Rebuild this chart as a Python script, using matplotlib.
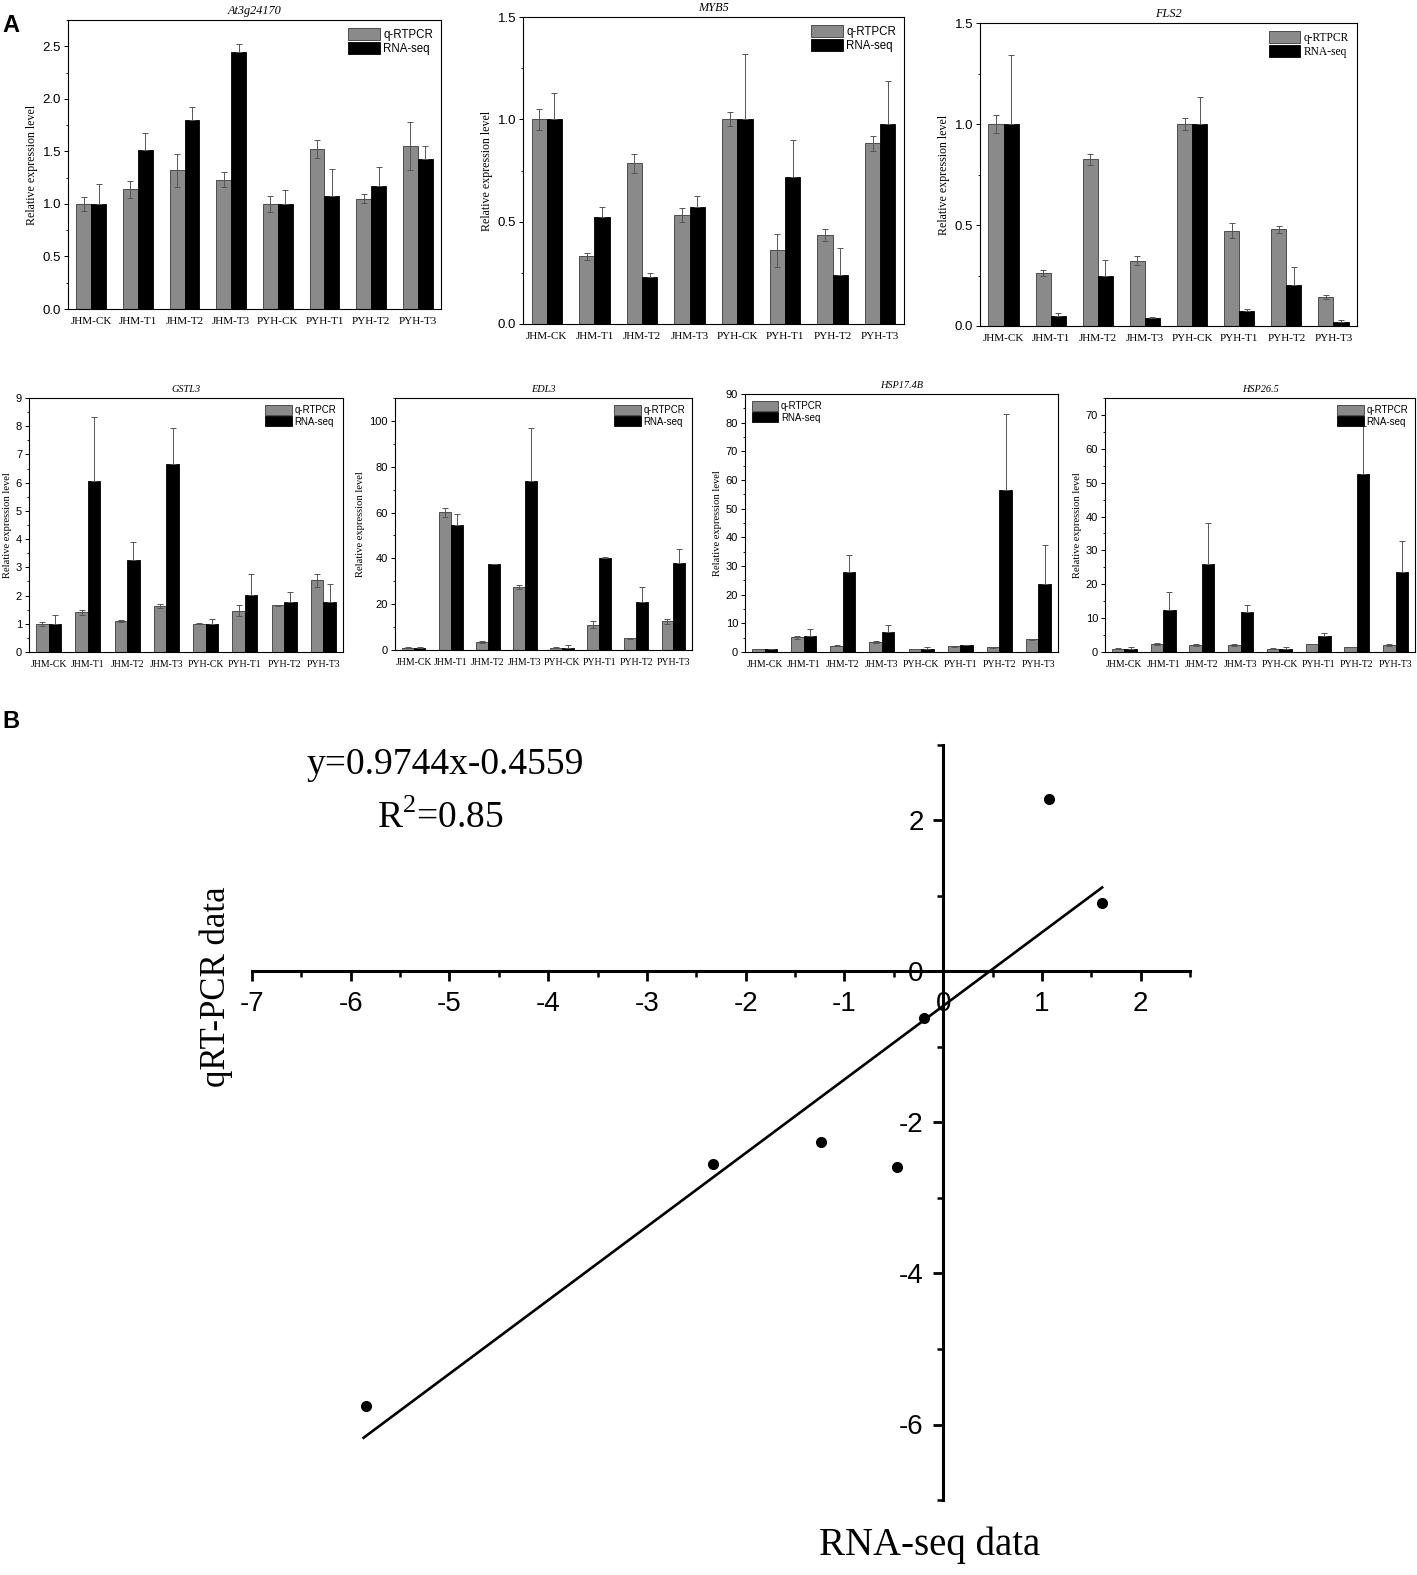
import numpy as np
import matplotlib
matplotlib.use("Agg")
import matplotlib.pyplot as plt
from matplotlib.ticker import MultipleLocator, FormatStrFormatter

plt.rcParams["axes.unicode_minus"] = False

groups = ["JHM-CK", "JHM-T1", "JHM-T2", "JHM-T3", "PYH-CK", "PYH-T1", "PYH-T2", "PYH-T3"]

# per gene: q-RTPCR mean / err, RNA-seq mean / err
at3_q = [1.00, 1.14, 1.32, 1.23, 1.00, 1.52, 1.05, 1.55]
at3_qe = [0.07, 0.08, 0.155, 0.07, 0.08, 0.086, 0.044, 0.225]
at3_r = [1.00, 1.51, 1.80, 2.45, 1.00, 1.08, 1.17, 1.43]
at3_re = [0.19, 0.16, 0.12, 0.075, 0.13, 0.25, 0.18, 0.117]

myb_q = [1.00, 0.33, 0.786, 0.532, 1.00, 0.36, 0.434, 0.884]
myb_qe = [0.05, 0.017, 0.047, 0.033, 0.035, 0.08, 0.028, 0.037]
myb_r = [1.00, 0.523, 0.228, 0.574, 1.00, 0.719, 0.24, 0.978]
myb_re = [0.13, 0.05, 0.02, 0.052, 0.32, 0.18, 0.13, 0.21]

fls_q = [1.00, 0.261, 0.825, 0.323, 1.00, 0.472, 0.479, 0.142]
fls_qe = [0.046, 0.015, 0.026, 0.023, 0.03, 0.038, 0.018, 0.01]
fls_r = [1.00, 0.051, 0.249, 0.04, 1.00, 0.076, 0.203, 0.021]
fls_re = [0.34, 0.015, 0.076, 0.005, 0.134, 0.01, 0.091, 0.008]

gst_q = [1.00, 1.40, 1.11, 1.64, 1.00, 1.47, 1.65, 2.55]
gst_qe = [0.07, 0.09, 0.03, 0.07, 0.02, 0.19, 0.02, 0.23]
gst_r = [1.00, 6.07, 3.25, 6.65, 1.00, 2.01, 1.78, 1.78]
gst_re = [0.32, 2.26, 0.64, 1.29, 0.16, 0.76, 0.34, 0.64]

edl_q = [1.0, 60.1, 3.5, 27.5, 1.0, 11.1, 5.1, 12.5]
edl_qe = [0.2, 1.9, 0.3, 1.0, 0.3, 1.4, 0.2, 1.2]
edl_r = [1.0, 54.4, 37.4, 73.7, 1.0, 40.3, 21.0, 37.8]
edl_re = [0.2, 5.1, 0.3, 23.1, 1.3, 0.3, 6.5, 6.3]

h17_q = [1.0, 5.1, 2.2, 3.4, 1.0, 2.0, 1.7, 4.5]
h17_qe = [0.1, 0.5, 0.2, 0.3, 0.1, 0.2, 0.2, 0.2]
h17_r = [1.0, 5.7, 27.9, 7.1, 1.0, 2.4, 56.4, 23.7]
h17_re = [0.2, 2.4, 5.9, 2.4, 0.8, 0.2, 26.5, 13.6]

h26_q = [1.0, 2.4, 2.1, 2.2, 1.0, 2.4, 1.5, 2.1]
h26_qe = [0.1, 0.2, 0.2, 0.3, 0.1, 0.1, 0.1, 0.3]
h26_r = [1.0, 12.5, 25.9, 11.9, 1.0, 4.7, 52.7, 23.7]
h26_re = [0.4, 5.1, 12.2, 2.0, 0.6, 1.0, 13.9, 9.1]

# panel B scatter (RNA-seq vs qRT-PCR)
rna_x = [-5.85, -2.33, -1.24, -0.47, -0.19, 1.075, 1.61]
qpcr_y = [-5.75, -2.55, -2.26, -2.59, -0.62, 2.28, 0.91]
slope, intercept = 0.9744, -0.4559

W, H = 1417, 1575
fig = plt.figure(figsize=(W / 100, H / 100), dpi=100)

def px_axes(l, t, r, b):
    return fig.add_axes([l / W, 1 - b / H, (r - l) / W, (b - t) / H])

def bar_panel(box, title, q, qe, r, re, ymax, major, minor, legloc, small=False, legserif=False):
    ax = px_axes(*box)
    x = np.arange(len(groups))
    w = 0.32
    ekw = dict(ecolor="#555555", elinewidth=0.7, capsize=2.5, capthick=0.7)
    ax.bar(x - w / 2, q, w, yerr=qe, color="#8a8a8a", edgecolor="#3a3a3a",
           linewidth=0.6, error_kw=ekw, label="q-RTPCR")
    ax.bar(x + w / 2, r, w, yerr=[np.zeros(len(re)), re], color="black", edgecolor="black",
           linewidth=0.6, error_kw=ekw, label="RNA-seq")
    ax.set_xlim(-0.5, 7.5)
    ax.set_ylim(0, ymax)
    ax.yaxis.set_major_locator(MultipleLocator(major))
    ax.yaxis.set_minor_locator(MultipleLocator(minor))
    if major < 1:
        ax.yaxis.set_major_formatter(FormatStrFormatter("%.1f"))
    ax.set_xticks(x)
    ax.set_xticklabels(groups, family="Liberation Serif", fontsize=7.0 if small else 8.0)
    ax.tick_params(axis="x", length=0, pad=6)
    ax.tick_params(axis="y", labelsize=8.0 if small else 9.5, length=3, width=0.7, pad=2)
    ax.tick_params(axis="y", which="minor", length=1.8, width=0.6)
    for lab in ax.get_yticklabels():
        lab.set_family("Liberation Sans")
    for s in ax.spines.values():
        s.set_linewidth(0.8)
    ax.set_ylabel("Relative expression level", family="Liberation Serif",
                  fontsize=7.6 if small else 8.6, labelpad=3)
    ax.set_title(title, family="Liberation Serif", style="italic",
                 fontsize=7.4 if small else 8.8, pad=4)
    ax.legend(loc=legloc, frameon=False,
              handlelength=2.7, handleheight=1.2, labelspacing=0.12,
              handletextpad=0.3, borderaxespad=0.3,
              prop=dict(family="Liberation Serif" if legserif else "Liberation Sans",
                        size=7.0 if small else 8.3))
    return ax

bar_panel((68, 20, 441, 309), "At3g24170", at3_q, at3_qe, at3_r, at3_re, 2.75, 0.5, 0.25, "upper right")
bar_panel((523, 17, 904, 324), "MYB5", myb_q, myb_qe, myb_r, myb_re, 1.5, 0.5, 0.25, "upper right")
bar_panel((980, 23, 1357, 326), "FLS2", fls_q, fls_qe, fls_r, fls_re, 1.5, 0.5, 0.25, "upper right",
          legserif=True)
bar_panel((29, 398, 343, 652), "GSTL3", gst_q, gst_qe, gst_r, gst_re, 9, 1, 0.5, "upper right", small=True)
bar_panel((395, 398, 692, 650), "EDL3", edl_q, edl_qe, edl_r, edl_re, 110, 20, 10, "upper right", small=True)
bar_panel((745, 394, 1058, 652), "HSP17.4B", h17_q, h17_qe, h17_r, h17_re, 90, 10, 5, "upper left", small=True)
bar_panel((1105, 398, 1415, 652), "HSP26.5", h26_q, h26_qe, h26_r, h26_re, 75, 10, 5, "upper right", small=True)

# panel B
ax = px_axes(252, 745, 1190, 1500)
ax.set_xlim(-7, 2.5)
ax.set_ylim(-7, 3)
ax.spines["left"].set_position(("data", 0))
ax.spines["bottom"].set_position(("data", 0))
ax.spines["top"].set_visible(False)
ax.spines["right"].set_visible(False)
ax.spines["left"].set_linewidth(2.2)
ax.spines["bottom"].set_linewidth(2.2)
ax.patch.set_alpha(0)
ax.xaxis.set_major_locator(MultipleLocator(1))
ax.xaxis.set_minor_locator(MultipleLocator(0.5))
ax.set_yticks([-6, -4, -2, 0, 2])
ax.yaxis.set_minor_locator(MultipleLocator(1))
ax.tick_params(which="major", length=7, width=2, labelsize=20, pad=7)
ax.tick_params(which="minor", length=4, width=1.8)
for lab in ax.get_xticklabels() + ax.get_yticklabels():
    lab.set_family("Liberation Sans")

xs = np.array([min(rna_x) - 0.02, max(rna_x)])
ax.plot(xs, slope * xs + intercept, color="black", lw=1.9)
ax.plot(rna_x, qpcr_y, "o", color="black", ms=7)

fig.text(445 / W, 1 - 765 / H, "y=0.9744x-0.4559", family="Liberation Serif", fontsize=27,
         ha="center", va="center")
fig.text(440 / W, 1 - 818 / H, "R$^{\\mathregular{2}}$=0.85", family="Liberation Serif",
         fontsize=27, ha="center", va="center")
fig.text(216 / W, 1 - 987 / H, "qRT-PCR data", family="Liberation Serif", fontsize=25,
         rotation=90, ha="center", va="center")
fig.text(930 / W, 1 - 1545 / H, "RNA-seq data", family="Liberation Serif", fontsize=28,
         ha="center", va="center")

fig.text(2 / W, 1 - 25 / H, "A", fontsize=17, fontweight="bold", family="Liberation Sans",
         ha="left", va="center")
fig.text(2 / W, 1 - 722 / H, "B", fontsize=17, fontweight="bold", family="Liberation Sans",
         ha="left", va="center")

fig.savefig("out.png", dpi=100)
